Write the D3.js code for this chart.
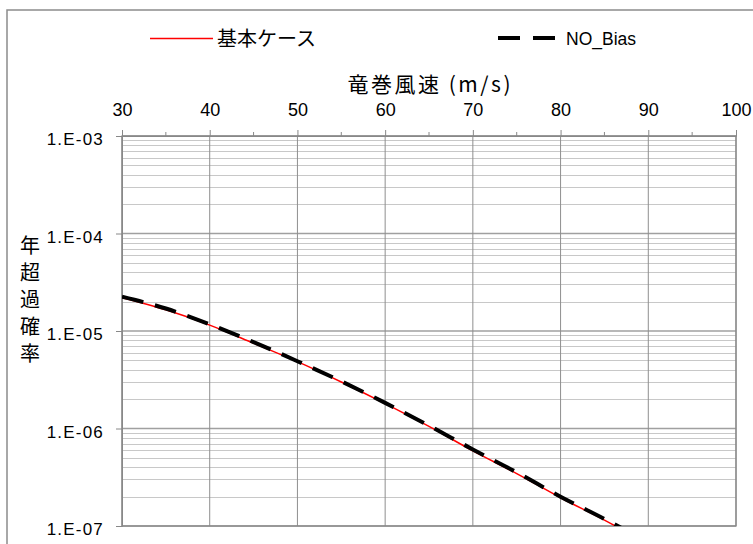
<!DOCTYPE html>
<html><head><meta charset="utf-8">
<script src="https://cdn.jsdelivr.net/npm/d3@7"></script>
<style>body{margin:0;background:#fff}svg{display:block}</style>
</head><body><svg id="c" width="753" height="544"></svg>
<script>
const speeds = [30,35,40,45,50,55,60,65,70,75,80,85,90];
const baseCase = [2.2e-5,1.65e-5,1.15e-5,7.5e-6,4.85e-6,3.0e-6,1.8e-6,1.05e-6,5.9e-7,3.45e-7,1.95e-7,1.15e-7,6.5e-8];
const noBias = [2.25e-5,1.7e-5,1.17e-5,7.7e-6,4.9e-6,3.05e-6,1.83e-6,1.07e-6,6.1e-7,3.55e-7,2.0e-7,1.18e-7,6.8e-8];
const xTicks = [30,40,50,60,70,80,90,100];
const xMinorTicks = [35,45,55,65,75,85,95];
const yTicks = [1e-3,1e-4,1e-5,1e-6,1e-7];
const yTickLabels = ["1.E-03","1.E-04","1.E-05","1.E-06","1.E-07"];
const seriesNames = ["基本ケース","NO_Bias"];
const xTitle = "竜巻風速 (m/s)";
const yTitle = "年超過確率";

const svg = d3.select("#c");
const L=122,R=736,T=136,B=526;
const x = d3.scaleLinear().domain([30,100]).range([L,R]);
const y = d3.scaleLog().domain([1e-7,1e-3]).range([B,T]);
const num = "'Liberation Sans', Arial, sans-serif";
const jp = "'Noto Sans CJK JP', sans-serif";

// outer frame
svg.append("rect").attr("x",7).attr("y",10).attr("width",800).attr("height",600)
  .attr("fill","none").attr("stroke","#8c8c8c").attr("stroke-width",1.5);

// minor horizontal grid
const minor=[];
for(let e=-7;e<-3;e++){for(let m=2;m<=9;m++){minor.push(m*Math.pow(10,e));}}
svg.append("g").selectAll("line").data(minor).join("line")
  .attr("x1",L).attr("x2",R).attr("y1",d=>Math.round(y(d))+0.5).attr("y2",d=>Math.round(y(d))+0.5)
  .attr("stroke","#c8c8c8").attr("stroke-width",1);
// major horizontal
svg.append("g").selectAll("line").data(yTicks).join("line")
  .attr("x1",L).attr("x2",R).attr("y1",d=>y(d)).attr("y2",d=>y(d))
  .attr("stroke","#a0a0a0").attr("stroke-width",1.5);
// vertical grid
svg.append("g").selectAll("line").data(xTicks).join("line")
  .attr("x1",d=>x(d)).attr("x2",d=>x(d)).attr("y1",T).attr("y2",B)
  .attr("stroke","#8e8e8e").attr("stroke-width",1);
// plot border
svg.append("rect").attr("x",L).attr("y",T).attr("width",R-L).attr("height",B-T)
  .attr("fill","none").attr("stroke","#888").attr("stroke-width",1.3);

// top axis
const xAxis = d3.axisTop(x).tickValues(xTicks).tickSize(6).tickPadding(14).tickFormat(d3.format("d"));
const gx = svg.append("g").attr("transform",`translate(0,${T})`).call(xAxis);
gx.select(".domain").attr("stroke","#888");
gx.selectAll(".tick line").attr("stroke","#888");
gx.selectAll("text").attr("font-family",num).attr("font-size",18).attr("fill","#000");
svg.append("g").selectAll("line").data(xMinorTicks).join("line")
  .attr("x1",d=>x(d)).attr("x2",d=>x(d)).attr("y1",T).attr("y2",T-4).attr("stroke","#888");

// left axis
const yAxis = d3.axisLeft(y).tickValues(yTicks).tickSize(6).tickPadding(12)
  .tickFormat((d,i)=>yTickLabels[i]);
const gy = svg.append("g").attr("transform",`translate(${L},0)`).call(yAxis);
gy.select(".domain").attr("stroke","#888");
gy.selectAll(".tick line").attr("stroke","#888");
gy.selectAll("text").attr("font-family",num).attr("font-size",17).attr("letter-spacing",1.2)
  .attr("fill","#000").attr("dy","0.75em").attr("y",-4);

// titles
svg.append("text").attr("x",(L+R)/2).attr("y",92).attr("text-anchor","middle")
  .attr("font-family",jp).attr("font-size",21).attr("textLength",163).attr("lengthAdjust","spacing")
  .text(xTitle);
const yt = svg.append("text").attr("font-family",jp).attr("font-size",20).attr("text-anchor","middle");
yTitle.split("").forEach((ch,i)=>{
  yt.append("tspan").attr("x",30).attr("y",253+i*27).text(ch);
});

// clip
svg.append("clipPath").attr("id","clip").append("rect").attr("x",L).attr("y",T).attr("width",R-L).attr("height",B-T);

const line = d3.line().x(d=>x(d[0])).y(d=>y(d[1])).curve(d3.curveMonotoneX);
const g = svg.append("g").attr("clip-path","url(#clip)");
g.append("path").attr("d",line(speeds.map((s,i)=>[s,baseCase[i]])))
  .attr("fill","none").attr("stroke","#ff0000").attr("stroke-width",1.5);
g.append("path").attr("d",line(speeds.map((s,i)=>[s,noBias[i]])))
  .attr("fill","none").attr("stroke","#000").attr("stroke-width",4).attr("stroke-dasharray","22,12");

// legend
svg.append("line").attr("x1",150).attr("x2",213).attr("y1",38.5).attr("y2",38.5)
  .attr("stroke","#ff0000").attr("stroke-width",1.5);
svg.append("text").attr("x",217).attr("y",46).attr("font-family",jp).attr("font-size",20).text(seriesNames[0]);
svg.append("line").attr("x1",498).attr("x2",555).attr("y1",38).attr("y2",38)
  .attr("stroke","#000").attr("stroke-width",4).attr("stroke-dasharray","22,13");
svg.append("text").attr("x",566).attr("y",45).attr("font-family",num).attr("font-size",17.5).text(seriesNames[1]);
</script></body></html>
